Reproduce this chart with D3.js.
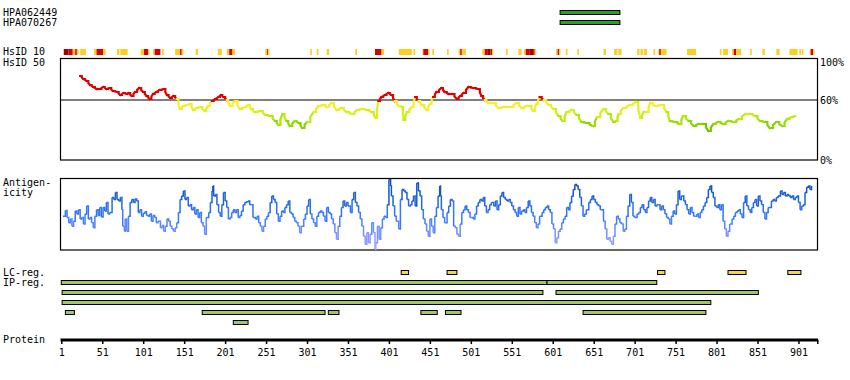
<!DOCTYPE html>
<html><head><meta charset="utf-8">
<script src="https://cdn.jsdelivr.net/npm/d3@7"></script>
<style>body{margin:0;background:#fff}svg{display:block}text{font-family:"DejaVu Sans Mono",monospace;font-size:10px;fill:#000}</style>
</head><body><svg id="c" width="850" height="380"></svg>
<script>
// ---------- DATA ----------
const proteinLength = 924;
const tickResidues = [1,51,101,151,201,251,301,351,401,451,501,551,601,651,701,751,801,851,901];
const antibodyNames = ["HPA062449","HPA070267"];
const antibodyStarts = [610,610];
const antibodyEnds = [683,683];

// HsID 10 strip: [start, end, level] level 1=gold, 2=red, 3=dark red
const hsid10Segments = [
 [4,10,3],[10,15,2],[15,18,1],[18,20,2],[20,22,1],[24,31,1],[41,44,1],[44,52,2],[52,55,1],
 [69,72,1],[73,82,1],[98,102,1],[102,107,2],[107,108,1],[113,115,1],[115,122,2],[124,126,1],
 [140,146,1],[146,148,2],[148,150,1],[165,168,1],[192,197,1],[203,206,1],[206,210,2],[210,213,1],
 [250,252,1],[252,253,2],[253,255,1],[305,307,1],[313,315,1],[325,328,1],[360,362,1],
 [384,392,2],[392,395,1],[413,429,1],[431,433,1],[442,443,1],[443,449,2],[449,450,1],[454,456,1],
 [472,474,1],[486,488,1],[488,490,2],[490,495,1],[515,518,1],[518,521,2],[521,525,3],[525,527,2],[527,528,1],
 [544,546,1],[559,563,1],[566,568,1],[568,573,2],[573,577,3],[577,579,2],[579,580,1],
 [605,607,1],[607,609,2],[609,610,1],[617,619,1],[631,633,1],[663,666,1],[676,680,1],[681,685,1],
 [704,707,1],[708,711,1],[712,716,1],[724,726,1],[730,731,1],[731,733,2],[733,740,1],[765,776,1],
 [805,807,1],[809,815,1],[820,822,1],[822,825,2],[825,831,1],[842,844,1],[857,860,1],[874,878,1],
 [890,900,1],[902,904,1],[905,907,1],[915,916,1],[916,919,2],[919,920,1]
];

// HsID 50 identity (%)
const identityResidues = [24,28,32,36,40,44,48,52,56,60,64,69,73,77,81,83,87,91,96,101,105,109,113,117,121,126,130,134,138,142,
 146,150,154,158,162,166,170,176,180,185,189,193,196,199,203,207,213,219,225,229,233,237,244,250,256,262,266,271,276,280,
 286,291,295,301,309,315,321,325,331,337,343,349,356,362,368,374,380,385,388,392,396,400,404,408,413,417,419,423,429,433,
 437,441,447,451,455,459,465,469,474,478,484,488,492,498,504,510,514,518,522,528,535,541,549,557,563,569,573,577,581,585,
 590,596,602,608,613,618,624,630,636,642,650,655,663,669,675,679,681,687,695,703,708,712,716,720,726,734,740,744,750,756,
 760,767,773,779,785,791,797,803,809,815,822,828,836,842,848,854,860,866,874,881,887,893,897];
const identityValues = [84,81,79,75,73,71,71,73,71,72,69,68,65,67,66,67,64,68,72,68,64,61,66,68,70,71,65,62,64,61,
 51,54,55,56,50,52,53,49,54,59,61,63,65,63,60,54,59,51,53,55,51,48,49,45,44,39,35,46,39,34,
 39,37,32,38,48,54,55,53,57,50,52,48,46,50,51,50,48,42,59,63,65,67,65,59,54,53,40,48,53,63,
 59,55,50,56,63,68,72,68,66,66,61,64,67,73,72,71,64,60,57,57,52,53,53,57,52,54,54,49,56,63,
 60,55,51,44,39,48,50,45,38,37,34,43,51,46,38,39,46,52,55,58,42,48,48,57,54,55,48,39,38,36,
 44,39,34,36,36,29,36,38,36,39,38,41,46,46,44,39,38,32,38,34,41,43,44];

// Antigenicity (relative score, 0-100)
const antigenResidues = [3,6,8,10,12,14,16,18,20,22,24,26,28,30,32,34,36,38,40,42,44,46,48,50,52,54,56,58,60,
 63,65,67,69,71,73,75,76,78,79,81,83,85,87,89,91,93,95,97,99,101,103,105,107,109,111,113,115,117,119,
 122,124,126,128,130,132,134,136,138,140,142,144,146,148,150,152,154,156,158,160,162,164,166,168,170,172,174,176,178,
 181,183,185,186,187,189,191,193,195,197,199,201,203,205,207,209,211,213,215,217,219,221,223,225,227,229,231,233,235,
 238,240,242,244,246,248,250,252,254,256,258,260,262,264,266,268,270,272,274,276,278,280,282,284,286,288,290,292,294,
 297,299,301,303,305,307,309,311,313,315,317,319,321,323,325,327,329,331,333,335,337,339,341,343,345,347,349,351,
 354,356,358,360,362,364,366,368,370,372,374,376,378,380,382,384,385,387,389,391,393,395,397,399,401,403,404,406,408,410,
 413,415,417,419,421,423,425,427,429,431,433,435,437,439,441,443,445,447,449,451,453,455,457,459,461,463,
 464,465,467,469,472,474,476,478,480,482,484,486,488,490,492,494,496,498,500,502,504,506,508,510,512,514,516,518,520,522,524,526,
 529,531,533,535,537,539,541,543,545,547,549,551,553,555,557,559,561,563,565,567,569,571,573,575,577,579,581,583,585,
 588,590,592,594,596,598,600,602,604,606,608,610,612,614,616,618,620,622,624,626,628,630,632,634,636,638,640,642,
 645,647,649,651,653,655,657,659,661,663,665,667,669,671,673,675,677,679,681,683,685,687,689,691,693,695,697,699,701,
 704,706,708,710,712,714,716,718,720,722,724,726,728,730,732,734,736,738,740,742,744,746,748,750,752,754,756,758,
 761,763,765,767,769,771,773,775,777,779,781,783,785,787,789,791,793,795,797,799,801,803,805,807,809,811,813,815,817,
 820,822,824,826,828,830,832,834,836,838,840,842,844,846,848,850,852,854,856,858,860,862,864,866,868,870,872,874,876,
 879,881,883,885,887,889,891,893,895,897,899,901,903,905,907,909,911,913,915,917];
const antigenValues = [47,55,45,38,43,33,40,54,50,56,43,45,36,50,61,43,45,38,31,47,56,48,59,46,59,54,66,50,52,
 73,70,80,70,68,73,56,33,26,43,26,47,66,70,66,71,68,52,56,47,51,53,48,47,50,40,48,45,38,40,
 31,34,26,33,43,40,33,29,26,31,38,52,70,75,82,70,73,61,63,56,59,50,56,45,52,38,33,22,45,
 52,66,82,89,75,77,63,52,47,63,80,68,59,43,45,52,56,52,56,45,48,54,63,66,67,68,63,63,45,
 43,47,38,33,26,33,43,47,52,66,75,70,66,50,40,47,54,52,59,63,68,52,50,45,40,38,33,24,33,
 43,50,61,70,50,43,38,33,47,52,54,52,47,40,59,52,50,43,36,24,15,33,47,59,68,61,66,61,
 52,70,80,66,61,52,43,33,19,8,24,10,22,38,24,1,10,33,15,31,43,47,45,63,98,89,75,61,47,40,
 29,70,84,82,80,70,61,63,68,75,61,93,82,75,56,43,36,26,19,43,33,24,47,59,75,89,
 75,56,45,38,52,61,70,68,33,31,22,19,36,52,56,61,56,52,45,45,43,50,61,66,70,68,73,61,52,56,63,66,
 61,68,56,63,75,80,73,70,68,70,66,61,56,52,47,59,50,54,56,52,59,68,61,52,47,38,31,36,47,
 52,56,59,61,56,52,36,29,10,17,26,29,38,43,47,59,56,66,75,84,91,89,84,73,61,47,50,56,
 66,70,75,70,66,63,61,56,56,40,29,15,17,12,8,19,36,47,43,38,36,26,29,47,61,77,66,47,45,
 50,52,59,63,56,52,59,68,73,66,70,61,63,63,56,61,56,50,45,43,36,47,54,50,63,82,70,75,
 68,63,56,50,59,52,47,47,50,45,52,56,61,66,73,84,89,80,73,61,59,63,56,63,40,29,19,26,36,
 43,47,52,54,56,50,45,66,75,61,56,52,59,66,70,61,75,68,63,52,43,52,59,59,68,70,68,73,75,
 82,77,80,75,77,75,73,75,70,73,75,66,56,61,63,80,87,89,84,89];

// Regions
const lcStarts = [416,472,729,815,888];
const lcEnds   = [425,484,738,837,904];
const ipRows   = [0,0,1,1,2,3,3,3,3,3,3,4];
const ipStarts = [1,594,2,605,2,6,173,327,440,470,638,211];
const ipEnds   = [594,728,589,852,794,17,323,340,460,489,788,229];

// ---------- DRAW ----------
const svg = d3.select("#c");
const x = d3.scaleLinear().domain([1, proteinLength]).range([61.3, 817.3]);
const yId = d3.scaleLinear().domain([0,100]).range([160,60]);
const yAg = d3.scaleLinear().domain([0,100]).range([250,178]);

function label(t, px, py, anchor){ svg.append("text").attr("x",px).attr("y",py).attr("text-anchor",anchor||"start").text(t); }

// antibodies
antibodyNames.forEach((n,i)=>{
  label(n, 3, 16 + i*10);
  svg.append("rect").attr("x", x(antibodyStarts[i])).attr("y", 10.5 + i*10)
    .attr("width", x(antibodyEnds[i]) - x(antibodyStarts[i])).attr("height", 4)
    .attr("fill","#22a322").attr("stroke","#000").attr("stroke-width",1);
});

// HsID 10 strip
label("HsID 10", 3, 55);
const hsColor = {1:"#ffcc22", 2:"#dd0000", 3:"#a00000"};
svg.append("g").selectAll("rect").data(hsid10Segments).join("rect")
  .attr("x", d=>x(d[0])).attr("y", 49).attr("width", d=>Math.max(1.2, x(d[1]) - x(d[0])))
  .attr("height", 6).attr("fill", d=>hsColor[d[2]]);

// Identity panel
label("HsID 50", 3, 66);
svg.append("rect").attr("x",60.5).attr("y",58.5).attr("width",757).attr("height",101.5)
  .attr("fill","none").attr("stroke","#000").attr("stroke-width",1.2);
svg.append("line").attr("x1",60.5).attr("x2",817.5).attr("y1",yId(60)).attr("y2",yId(60))
  .attr("stroke","#000").attr("stroke-width",1.2);
label("100%", 820, 66); label("60%", 820, 104); label("0%", 820, 164);
const idColor = d3.scaleLinear().domain([29,37,45,55]).range(["#5fb400","#94dc00","#c8f014","#f6f024"]).clamp(true);
const gId = svg.append("g");
for (let i=0;i<identityResidues.length-1;i++){
  const r0=identityResidues[i], r1=identityResidues[i+1], v0=identityValues[i], v1=identityValues[i+1];
  const m=(v0+v1)/2;
  const xm = (x(r0)+x(r1))/2, ym=(yId(v0)+yId(v1))/2;
  gId.append("path").attr("d", `M${x(r0)},${yId(v0)}H${xm}V${ym}L${x(r1)},${yId(v1)}`)
    .attr("fill","none").attr("stroke", m>=60 ? "#dd0000" : idColor(m)).attr("stroke-width",2.2)
    .attr("stroke-linecap","square").attr("stroke-linejoin","miter");
}

// Antigenicity panel
label("Antigen-", 3, 186); label("icity", 3, 196);
svg.append("rect").attr("x",60.5).attr("y",178.5).attr("width",757).attr("height",71.5)
  .attr("fill","none").attr("stroke","#000").attr("stroke-width",1.2);
const agColor = d3.scaleLinear().domain([0,45,100]).range(["#b4a8ff","#3a7cff","#0046b0"]);
const gAg = svg.append("g");
for (let i=0;i<antigenResidues.length-1;i++){
  const r0=antigenResidues[i], r1=antigenResidues[i+1], v0=antigenValues[i], v1=antigenValues[i+1];
  gAg.append("path").attr("d", `M${x(r0)},${yAg(v0)}H${x(r1)}V${yAg(v1)}`)
    .attr("fill","none").attr("stroke", agColor((v0+v1)/2)).attr("stroke-width",1.5);
}

// Regions
label("LC-reg.", 3, 276); label("IP-reg.", 3, 286);
svg.append("g").selectAll("rect").data(lcStarts).join("rect")
  .attr("x",(d)=>x(d)).attr("y",270.5).attr("width",(d,i)=>x(lcEnds[i])-x(d)).attr("height",4)
  .attr("fill","#f2d83c").attr("stroke","#000").attr("stroke-width",1);
svg.append("g").selectAll("rect").data(ipStarts).join("rect")
  .attr("x",(d)=>x(d)).attr("y",(d,i)=>280.5 + ipRows[i]*10).attr("width",(d,i)=>x(ipEnds[i])-x(d)).attr("height",4)
  .attr("fill","#9fc95a").attr("stroke","#000").attr("stroke-width",1);

// Protein axis
label("Protein", 3, 343);
const axis = d3.axisBottom(x).tickValues(tickResidues.concat([proteinLength])).tickSize(4).tickPadding(5)
  .tickFormat(d => tickResidues.includes(d) ? d : "");
const gAx = svg.append("g").attr("transform","translate(0,340)").call(axis);
gAx.select(".domain").remove();
gAx.selectAll(".tick line").attr("stroke","#000").attr("stroke-width",1.5);
gAx.selectAll(".tick text").attr("font-family","DejaVu Sans Mono").attr("font-size",10).attr("fill","#000");
svg.append("rect").attr("x", x(1)-0.8).attr("y",338.5).attr("width", x(proteinLength)-x(1)+1.6).attr("height",3).attr("fill","#000");
</script></body></html>
